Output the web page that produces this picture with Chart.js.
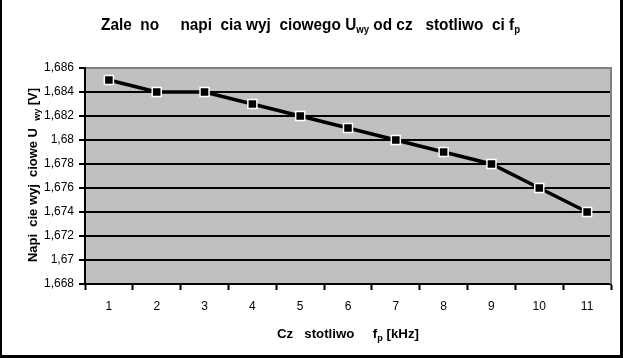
<!DOCTYPE html>
<html>
<head>
<meta charset="utf-8">
<script src="https://cdn.jsdelivr.net/npm/chart.js@4.4.1/dist/chart.umd.min.js"></script>
<style>
  html, body { margin: 0; padding: 0; background: #ffffff; }
  #wrap { width: 623px; height: 358px; position: relative; }
</style>
</head>
<body>
<div id="wrap"><canvas id="c"></canvas></div>
<script>
// ---- data ----
const categories = ['1', '2', '3', '4', '5', '6', '7', '8', '9', '10', '11'];
const outputVoltage = [1.685, 1.684, 1.684, 1.683, 1.682, 1.681, 1.680, 1.679, 1.678, 1.676, 1.674];
const yTickValues = [1.668, 1.670, 1.672, 1.674, 1.676, 1.678, 1.680, 1.682, 1.684, 1.686];
const yTickLabels = ['1,668', '1,67', '1,672', '1,674', '1,676', '1,678', '1,68', '1,682', '1,684', '1,686'];
const titleParts = [['Zale  no     napi  cia wyj  ciowego U', false], ['wy', true], [' od cz   stotliwo  ci f', false], ['p', true]];
const xTitleParts = [['Cz   stotliwo     f', false], ['p', true], [' [kHz]', false]];
const yTitleParts = [['Napi  cie wyj  ciowe U  ', false], ['wy', true], [' [V]', false]];

const FONT = '"Liberation Sans", Arial, Helvetica, sans-serif';

function drawRich(ctx, parts, x, y, size, subSize, rotate, targetWidth) {
  ctx.save();
  ctx.translate(x, y);
  if (rotate) ctx.rotate(-Math.PI / 2);
  ctx.textAlign = 'left';
  ctx.textBaseline = 'alphabetic';
  ctx.fillStyle = '#000000';
  let total = 0;
  const widths = parts.map(([t, sub]) => {
    ctx.font = 'bold ' + (sub ? subSize : size) + 'px ' + FONT;
    const w = ctx.measureText(t).width;
    total += w;
    return w;
  });
  if (targetWidth) ctx.scale(targetWidth / total, 1);
  let cx = -total / 2;
  parts.forEach(([t, sub], i) => {
    ctx.font = 'bold ' + (sub ? subSize : size) + 'px ' + FONT;
    ctx.fillText(t, cx, sub ? 3 : 0);
    cx += widths[i];
  });
  ctx.restore();
}

const decorPlugin = {
  id: 'decor',
  beforeDraw(chart) {
    const { ctx, chartArea: a } = chart;
    ctx.save();
    ctx.fillStyle = '#c0c0c0';
    ctx.fillRect(a.left, a.top, a.right - a.left, a.bottom - a.top);
    ctx.restore();
  },
  afterDraw(chart) {
    const { ctx, chartArea: a } = chart;
    ctx.save();
    ctx.strokeStyle = '#808080';
    ctx.lineWidth = 2;
    ctx.beginPath();
    ctx.moveTo(a.right, a.top - 1);
    ctx.lineTo(a.right, a.bottom);
    ctx.stroke();
    ctx.fillStyle = '#000000';
    ctx.fillRect(0, 0, 2, 358);
    ctx.fillRect(620, 0, 3, 358);
    ctx.fillRect(0, 355, 623, 3);
    ctx.restore();
    drawRich(ctx, titleParts, 310.5, 30, 16, 10, false, 419);
    drawRich(ctx, xTitleParts, (a.left + a.right) / 2, 338, 13, 9, false, 142);
    drawRich(ctx, yTitleParts, 37, 175, 13, 9, true, 174);
  }
};

new Chart(document.getElementById('c'), {
  type: 'line',
  data: {
    labels: categories,
    datasets: [{
      data: outputVoltage,
      borderColor: '#000000',
      borderWidth: 3.5,
      backgroundColor: '#000000',
      pointStyle: 'rect',
      pointRadius: 6.4,
      pointHoverRadius: 6.4,
      pointBackgroundColor: '#000000',
      pointBorderColor: '#ffffff',
      pointBorderWidth: 1.5,
      tension: 0,
      clip: false
    }]
  },
  options: {
    responsive: true,
    maintainAspectRatio: false,
    animation: false,
    events: [],
    layout: { padding: { top: 68, right: 12, bottom: 0, left: 0 } },
    plugins: {
      legend: { display: false },
      title: { display: false },
      tooltip: { enabled: false }
    },
    scales: {
      x: {
        type: 'category',
        offset: true,
        afterFit(scale) { scale.height = 74; },
        grid: {
          offset: true,
          drawOnChartArea: false,
          drawTicks: true,
          tickLength: 6,
          tickWidth: 2,
          tickColor: '#000000'
        },
        border: { display: true, color: '#000000', width: 2 },
        ticks: {
          color: '#000000',
          font: { family: FONT, size: 12 },
          padding: 9,
          maxRotation: 0,
          autoSkip: false
        }
      },
      y: {
        min: 1.668,
        max: 1.686,
        afterFit(scale) { scale.width = 85; },
        afterBuildTicks(scale) {
          scale.ticks = yTickValues.map(v => ({ value: v }));
        },
        grid: {
          color: (c) => (c.tick && Math.abs(c.tick.value - 1.686) < 1e-9) ? '#808080' : '#000000',
          lineWidth: 2,
          drawTicks: true,
          tickLength: 6,
          tickWidth: 2,
          tickColor: '#000000'
        },
        border: { display: true, color: '#000000', width: 2 },
        ticks: {
          color: '#000000',
          font: { family: FONT, size: 12 },
          padding: 5,
          callback(value, index) { return yTickLabels[index]; }
        }
      }
    }
  },
  plugins: [decorPlugin]
});
</script>
</body>
</html>
